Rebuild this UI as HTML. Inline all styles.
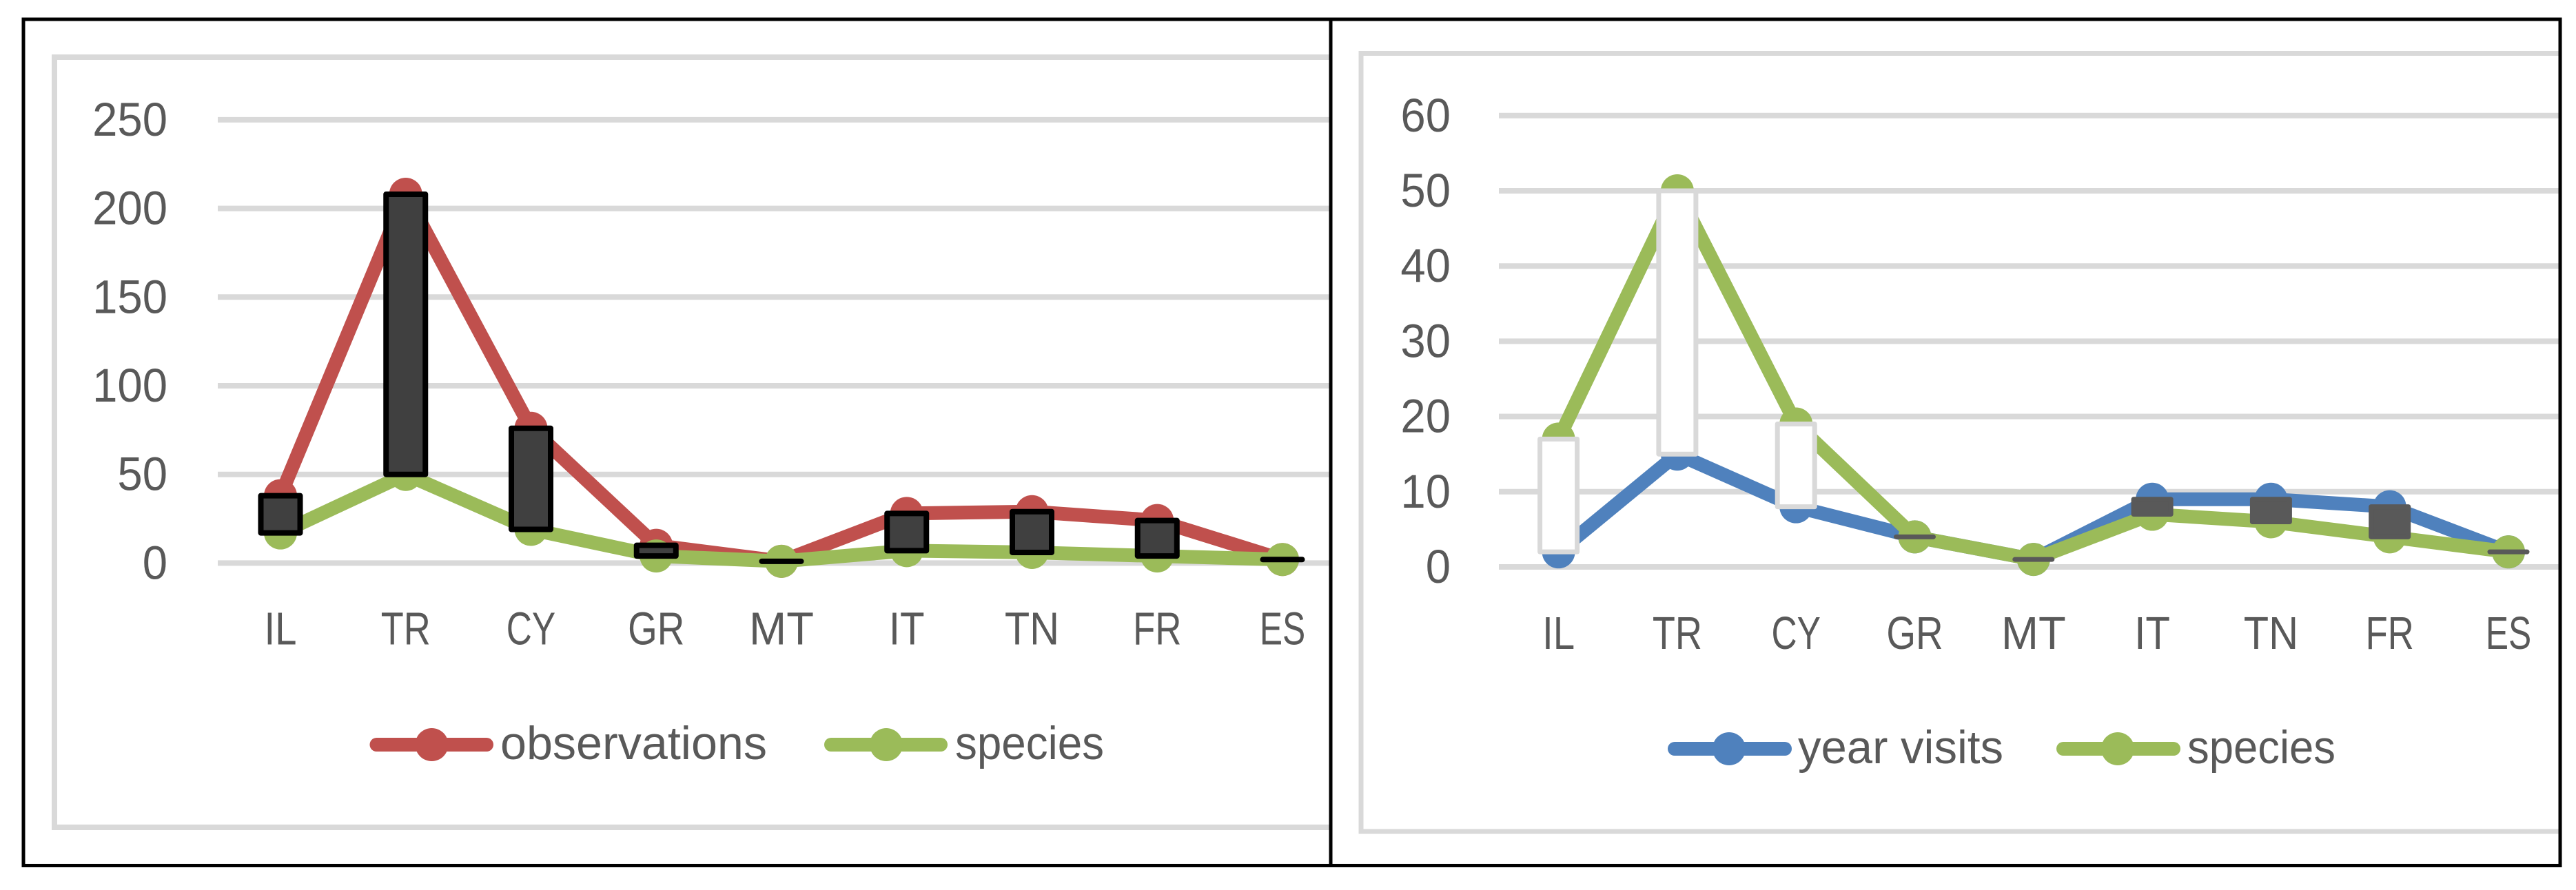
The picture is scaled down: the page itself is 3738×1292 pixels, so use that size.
<!DOCTYPE html>
<html>
<head>
<meta charset="utf-8">
<title>Observations, species and year visits by country</title>
<style>
html,body{margin:0;padding:0;background:#fff;}
body{width:3738px;height:1292px;overflow:hidden;}
svg{display:block;}
text{font-family:"Liberation Sans",sans-serif;fill:#595959;}
</style>
</head>
<body>
<svg id="figure" xmlns="http://www.w3.org/2000/svg" width="3738" height="1292" viewBox="0 0 3738 1292">
  <rect x="0" y="0" width="3738" height="1292" fill="#ffffff"/>

  <g id="left-panel">
    <path d="M1931 83H79V1201H1931" fill="none" stroke="#d9d9d9" stroke-width="8"/>
    <g id="left-grid"></g>
    <g id="left-marks"></g>
    <g>
      <g>
        <line x1="546.5" y1="1081" x2="706" y2="1081" stroke="#c0504d" stroke-width="20" stroke-linecap="round"/>
        <circle cx="626.5" cy="1081" r="24" fill="#c0504d"/>
        <text x="726" y="1102" font-size="68" textLength="387" lengthAdjust="spacingAndGlyphs">observations</text>
      </g>
      <g>
        <line x1="1206" y1="1081" x2="1365" y2="1081" stroke="#9bbb59" stroke-width="20" stroke-linecap="round"/>
        <circle cx="1286" cy="1081" r="24" fill="#9bbb59"/>
        <text x="1386" y="1102" font-size="68" textLength="216" lengthAdjust="spacingAndGlyphs">species</text>
      </g>
    </g>
  </g>

  <g id="right-panel">
    <path d="M3715 77.5H1975V1207H3715" fill="none" stroke="#d9d9d9" stroke-width="7"/>
    <g id="right-grid"></g>
    <g id="right-marks"></g>
    <g>
      <g>
        <line x1="2430" y1="1087" x2="2590" y2="1087" stroke="#4f81bd" stroke-width="20" stroke-linecap="round"/>
        <circle cx="2509" cy="1087" r="24" fill="#4f81bd"/>
        <text x="2609" y="1108" font-size="68" textLength="298" lengthAdjust="spacingAndGlyphs">year visits</text>
      </g>
      <g>
        <line x1="2994" y1="1087" x2="3154" y2="1087" stroke="#9bbb59" stroke-width="20" stroke-linecap="round"/>
        <circle cx="3073" cy="1087" r="24" fill="#9bbb59"/>
        <text x="3174" y="1108" font-size="68" textLength="215" lengthAdjust="spacingAndGlyphs">species</text>
      </g>
    </g>
  </g>

  <g>
    <rect x="34" y="28" width="3681" height="1228.5" fill="none" stroke="#000000" stroke-width="5"/>
    <line x1="1931" y1="28" x2="1931" y2="1256.5" stroke="#000000" stroke-width="5"/>
  </g>
</svg>

<script>
const categories = ['IL', 'TR', 'CY', 'GR', 'MT', 'IT', 'TN', 'FR', 'ES'];
const observations = [38, 208, 76, 10, 1, 28, 29, 24, 2];
const speciesLeft = [17, 50, 19, 4, 1, 7, 6, 4, 2];
const yearVisits = [2, 15, 8, 4, 1, 9, 9, 8, 2];
const speciesRight = [17, 50, 19, 4, 1, 7, 6, 4, 2];
const leftTicks = [0, 50, 100, 150, 200, 250];
const rightTicks = [0, 10, 20, 30, 40, 50, 60];

const SVG_NS = 'http://www.w3.org/2000/svg';

/* Narrow-face advance widths (em) so Liberation glyphs occupy the reference's text widths. */
const glyphWidth = { I: .252, L: .42, T: .487, R: .543, C: .533, Y: .487, G: .631, M: .855, N: .646, F: .459, E: .488, S: .459 };

function labelLength(label) {
  let total = 0;
  for (const ch of label) {
    total += glyphWidth[ch] || 0;
  }
  return total * 70;
}

function make(parent, tag, name, attrs, content) {
  const el = document.createElementNS(SVG_NS, tag);
  
  
  for (const key in attrs) {
    el.setAttribute(key, attrs[key]);
  }
  if (content !== undefined) {
    el.textContent = content;
  }
  parent.appendChild(el);
  return el;
}

function xLeft(i) { return 407 + i * 181.75; }
function yLeft(v) { return 817.4 - v * 2.574; }
function xRight(i) { return 2261.6 + i * 172.3; }
function yRight(v) { return 823 - v * 10.92; }

function drawGrid(group, ticks, yScale, xStart, xEnd, labelX, prefix) {
  ticks.forEach(function (t) {
    make(group, 'line', prefix + '-gridline-' + t, {
      x1: xStart, x2: xEnd, y1: yScale(t), y2: yScale(t),
      stroke: '#d9d9d9', 'stroke-width': 8
    });
    make(group, 'text', prefix + '-y-tick-' + t, {
      x: labelX, y: yScale(t) + 23, 'font-size': 69, 'text-anchor': 'end',
      textLength: String(t).length * 36.3, lengthAdjust: 'spacingAndGlyphs'
    }, String(t));
  });
}

function drawCategories(group, xScale, baseline, prefix) {
  categories.forEach(function (c, i) {
    make(group, 'text', prefix + '-x-label-' + c, {
      x: xScale(i), y: baseline, 'font-size': 67, 'text-anchor': 'middle',
      textLength: labelLength(c), lengthAdjust: 'spacingAndGlyphs'
    }, c);
  });
}

function drawSeries(group, values, xScale, yScale, color, name) {
  const pts = values.map(function (v, i) {
    return xScale(i) + ',' + yScale(v);
  }).join(' ');
  make(group, 'polyline', name + '-line', {
    points: pts, fill: 'none', stroke: color, 'stroke-width': 20,
    'stroke-linejoin': 'miter', 'stroke-linecap': 'butt'
  });
  values.forEach(function (v, i) {
    make(group, 'circle', name + '-point-' + categories[i], {
      cx: xScale(i), cy: yScale(v), r: 24, fill: color
    });
  });
}

function drawBars(group, hi, lo, xScale, yScale, halfWidth, strokeWidth, style, prefix) {
  hi.forEach(function (h, i) {
    const y1 = yScale(Math.max(h, lo[i]));
    const y2 = yScale(Math.min(h, lo[i]));
    const xa = xScale(i) - halfWidth;
    const xb = xScale(i) + halfWidth;
    const s = style(h, lo[i]);
    make(group, 'path', prefix + '-hilo-bar-' + categories[i], {
      d: 'M' + xa + ' ' + y1 + 'L' + xb + ' ' + y1 + 'L' + xb + ' ' + y2 + 'L' + xa + ' ' + y2 + 'Z',
      fill: s.fill, stroke: s.stroke, 'stroke-width': strokeWidth, 'stroke-linejoin': 'round'
    });
  });
}

const leftGrid = document.getElementById('left-grid');
const leftMarks = document.getElementById('left-marks');
const rightGrid = document.getElementById('right-grid');
const rightMarks = document.getElementById('right-marks');

drawGrid(leftGrid, leftTicks, yLeft, 316, 1929, 243, 'left');
drawCategories(leftGrid, xLeft, 935.5, 'left');
drawSeries(leftMarks, observations, xLeft, yLeft, '#c0504d', 'observations');
drawSeries(leftMarks, speciesLeft, xLeft, yLeft, '#9bbb59', 'species-left');
drawBars(leftMarks, observations, speciesLeft, xLeft, yLeft, 28.5, 8, function () {
  return { fill: '#404040', stroke: '#000000' };
}, 'left');

drawGrid(rightGrid, rightTicks, yRight, 2175, 3713, 2105, 'right');
drawCategories(rightGrid, xRight, 942, 'right');
drawSeries(rightMarks, yearVisits, xRight, yRight, '#4f81bd', 'year-visits');
drawSeries(rightMarks, speciesRight, xRight, yRight, '#9bbb59', 'species-right');
drawBars(rightMarks, speciesRight, yearVisits, xRight, yRight, 27, 7, function (s, v) {
  return s > v ? { fill: '#ffffff', stroke: '#d9d9d9' } : { fill: '#595959', stroke: '#595959' };
}, 'right');
</script>
</body>
</html>
